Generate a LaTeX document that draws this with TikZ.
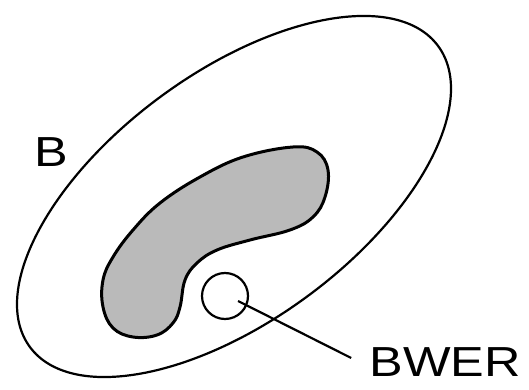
\documentclass[tikz,border=0pt]{standalone}
\usepackage{fontspec}
\setmainfont{Liberation Sans}
\usetikzlibrary{calc}
\begin{document}
\begin{tikzpicture}[x=1pt,y=1pt,
  outline/.style={line width=2.2pt, draw=black},
  blobstyle/.style={line width=3pt, draw=black, fill=black!27},
  lbl/.style={inner sep=0pt, font=\fontsize{42}{42}\selectfont}]
\useasboundingbox (0,0) rectangle (529,390);
% outer region B
\draw[outline, rotate around={36.4:(234,193.5)}] (234,193.5) ellipse [x radius=253.6, y radius=123.9];
% shaded echo region
\draw[blobstyle] plot[smooth cycle, tension=0.65] coordinates {
 (293,243) (317,238) (328,220) (325,193) (313,173) (290,160) (250,150)
 (217,140) (197,127) (185,110) (180,83) (173,67) (157,55) (133,53)
 (113,62) (103,83) (103,110) (113,133) (133,160) (160,187) (200,213) (243,233)};
% BWER circle
\node[outline, circle, minimum size=46pt, inner sep=0pt] (bwer) at (225,94) {};
% labels
\node[lbl] (labB) at (51.5,238) {\scalebox{1.2}[1]{B}};
\node[lbl] (labBWER) at (445,28) {\scalebox{1.2}[1]{BWER}};
% leader
\coordinate (lstart) at ($(bwer.center)+(13,-5)$);
\coordinate (lend) at ($(labBWER.west)+(-18,4)$);
\draw[outline] (lstart) -- (lend);
\end{tikzpicture}
\end{document}
